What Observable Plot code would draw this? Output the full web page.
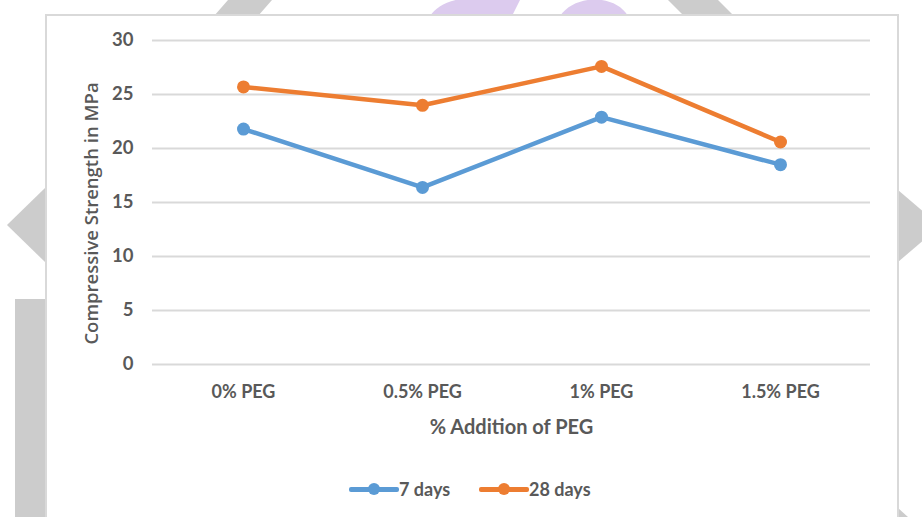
<!DOCTYPE html>
<html>
<head>
<meta charset="utf-8">
<script src="https://cdn.jsdelivr.net/npm/d3@7"></script>
<script src="https://cdn.jsdelivr.net/npm/@observablehq/plot@0.6"></script>
<style>
  html, body { margin: 0; padding: 0; background: #fff; }
  #page { position: relative; width: 922px; height: 517px; overflow: hidden; background: #fff; }
  #deco { position: absolute; left: 0; top: 0; }
  #box { position: absolute; left: 45px; top: 14px; width: 850px; height: 520px; border: 2px solid #d9d9d9; background: #fff; }
  #chart { position: absolute; left: 0; top: 0; }
  #chart svg { background: transparent !important; }
  #legend { position: absolute; top: 476px; left: 0; width: 922px; height: 26px; font-family: Lato, sans-serif; font-weight: 700; font-size: 18px; color: #595959; }
  .item { position: absolute; top: 0; display: flex; align-items: center; height: 26px; }
  .swatch { position: relative; width: 50px; height: 26px; }
  .swatch .ln { position: absolute; left: 0; right: 0; top: 11px; height: 4.5px; border-radius: 2px; }
  .swatch .dt { position: absolute; left: 19px; top: 7px; width: 12px; height: 12px; border-radius: 6px; }
  .ytitle { font-family: 'Open Sans', sans-serif; font-weight: 600; }
</style>
</head>
<body>
<div id="page">
  <svg id="deco" width="922" height="517">
    <polygon points="228,0 272,0 258,16 214,16" fill="#cccccc"/>
    <polygon points="668,0 718,0 734,16 684,16" fill="#cccccc"/>
    <path d="M430,16 C440,0 470,-8 520,0 L512,16 Z" fill="#dccbee"/>
    <path d="M560,16 C575,-6 615,-6 628,16 Z" fill="#dccbee"/>
    <polygon points="45,188 45,262 7,225" fill="#cccccc"/>
    <rect x="15" y="299" width="30" height="218" fill="#cccccc"/>
    <polygon points="898,190 898,262 940,226" fill="#cccccc"/>
    <polygon points="898,508 898,517 908,517" fill="#cccccc"/>
  </svg>
  <div id="box"></div>
  <div id="chart"></div>
  <div id="legend">
    <div class="item" style="left:349px"><div class="swatch"><div class="ln" style="background:#5b9bd5"></div><div class="dt" style="background:#5b9bd5"></div></div><span>7 days</span></div>
    <div class="item" style="left:479px"><div class="swatch"><div class="ln" style="background:#ed7d31"></div><div class="dt" style="background:#ed7d31"></div></div><span>28 days</span></div>
  </div>
</div>
<script>
const categories = ["0% PEG", "0.5% PEG", "1% PEG", "1.5% PEG"];
const days7 = [21.8, 16.4, 22.9, 18.5];
const days28 = [25.7, 24.0, 27.6, 20.6];
const seriesNames = ["7 days", "28 days"];
const yTicks = [0, 5, 10, 15, 20, 25, 30];
const colors = ["#5b9bd5", "#ed7d31"];

const rows = [];
categories.forEach((c, i) => {
  rows.push({cat: c, value: days7[i], series: seriesNames[0]});
  rows.push({cat: c, value: days28[i], series: seriesNames[1]});
});

const chart = Plot.plot({
  width: 922,
  height: 450,
  marginLeft: 152,
  marginRight: 52,
  marginTop: 40,
  marginBottom: 86,
  style: {background: "transparent", fontFamily: "Lato, sans-serif", fontWeight: 700, fontSize: "18px", color: "#595959"},
  x: {type: "point", domain: categories, padding: 0.5},
  y: {domain: [0, 30]},
  color: {domain: seriesNames, range: colors},
  marks: [
    Plot.gridY(yTicks, {stroke: "#d9d9d9", strokeOpacity: 1, strokeWidth: 2}),
    Plot.axisY(yTicks, {tickSize: 0, tickPadding: 19, fontSize: 18.5, label: null}),
    Plot.text(["Compressive Strength in MPa"], {frameAnchor: "left", dx: -60, dy: 11, rotate: -90, textAnchor: "middle", className: "ytitle", fontFamily: "Open Sans", fontWeight: 600, fontSize: 18.5, fill: "#595959"}),
    Plot.axisX({tickSize: 0, tickPadding: 21, fontSize: 18, label: null}),
    Plot.text(["% Addition of PEG"], {frameAnchor: "bottom", dy: 69, fontSize: 20, fill: "#595959"}),
    Plot.line(rows, {x: "cat", y: "value", z: "series", stroke: "series", strokeWidth: 4.5}),
    Plot.dot(rows, {x: "cat", y: "value", fill: "series", r: 6.5})
  ]
});
document.getElementById("chart").appendChild(chart);
</script>
</body>
</html>
